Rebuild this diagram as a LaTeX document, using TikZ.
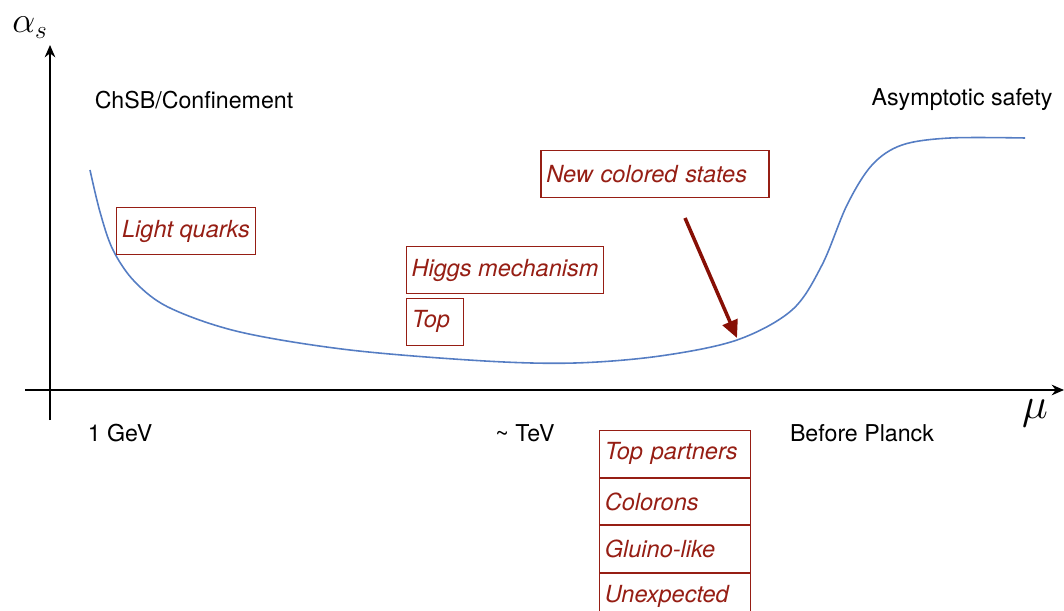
\documentclass[tikz,border=0pt]{standalone}
\usepackage{amsmath}
\usepackage{fontspec}
\setmainfont{TeX Gyre Heros}
\usetikzlibrary{positioning,arrows.meta}

\definecolor{boxred}{RGB}{150,30,20}
\definecolor{curveblue}{RGB}{85,125,195}

\tikzset{
  statebox/.style={draw=boxred, line width=0.6pt, text=boxred, inner xsep=3pt,
    minimum height=26.5pt, font=\fontsize{13.4}{15}\selectfont\itshape},
  stackbox/.style={statebox, text width=2.8cm, align=left},
  scalelabel/.style={font=\fontsize{13.2}{15}\selectfont},
  axis/.style={line width=1.1pt, -{Stealth[length=7pt,width=6pt]}}
}

\begin{document}
\begin{tikzpicture}[x=0.02cm, y=-0.02cm]
  \useasboundingbox (0,0) rectangle (1064,611);
  % axes
  \coordinate (ybot) at (50,420);
  \coordinate (ytop) at (50,45);
  \coordinate (xleft) at (25,390);
  \coordinate (xright) at (1064,390);
  \draw [axis] (ybot) -- (ytop);
  \draw [axis] (xleft) -- (xright);
  \node [anchor=base west, inner sep=0pt] (alpha) at (12,33) {\fontsize{22}{24}\selectfont$\alpha_s$};
  \node (mu) at (1035,413) {\fontsize{23}{26}\selectfont$\mu$};

  % regime labels
  \node [scalelabel] (chsb) at (194,100) {ChSB/Confinement};
  \node [scalelabel] (asym) at (962,100) {Asymptotic safety};
  \node [scalelabel] (gev) at (120,433) {1 GeV};
  \node [scalelabel] (tev) at (525,433) {\~{} TeV};
  \node [scalelabel] (planck) at (862,433) {Before Planck};

  % running coupling
  \draw [curveblue, line width=0.9pt] plot [smooth, tension=0.55] coordinates {
    (90,170) (100,212) (113,250) (135,282) (170,308) (240,332) (350,350)
    (485,361) (575,363) (660,356) (737,340) (792,310) (822,265) (847,205)
    (872,165) (902,145) (950,138) (1025,138)};

  % thresholds
  \node [statebox] (lightq) at (186,231) {Light quarks};
  \node [statebox] (higgs) at (505,270) {Higgs mechanism};
  \node [statebox, anchor=north west, text width=0.92cm] (top) at (406,298) {Top};
  \node [statebox, text width=4.35cm, align=left] (newcol) at (655,174) {New colored states};
  \node [stackbox, anchor=north west] (toppart) at (599,430) {Top partners};
  \node [stackbox, below=0pt of toppart] (colorons) {Colorons};
  \node [stackbox, below=0pt of colorons] (gluino) {Gluino-like};
  \node [stackbox, below=0pt of gluino] (unexp) {Unexpected};

  \coordinate (arrowtail) at (685,218);
  \coordinate (arrowtip) at (737,338);
  \draw [-{Triangle[length=10pt,width=9pt]}, color={rgb,255:red,135;green,15;blue,5}, line width=2pt] (arrowtail) -- (arrowtip);
\end{tikzpicture}
\end{document}
